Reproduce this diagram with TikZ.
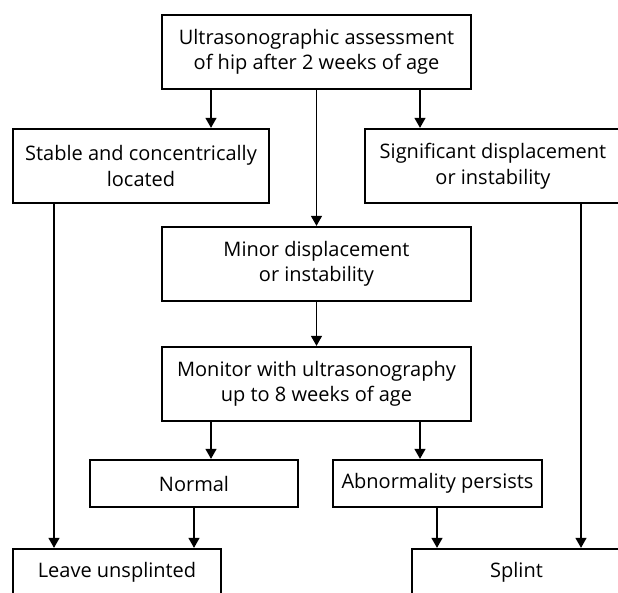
\documentclass[tikz,border=0pt]{standalone}
\usepackage{fontspec}
\setmainfont{Open Sans}
\usetikzlibrary{arrows.meta}
\tikzset{
  box/.style={draw, line width=2.3pt, align=center, inner sep=0pt,
    font=\fontsize{20}{25.5}\selectfont},
  arr/.style={line width=1.2pt, -{Triangle[length=10pt,width=11pt]}}
}
\begin{document}
\begin{tikzpicture}[x=1pt,y=-1pt]
\useasboundingbox (0,0) rectangle (618,592);
\clip (0,0) rectangle (618,592);
\fill[white] (0,0) rectangle (618,592);
\node[box, minimum width=309pt, minimum height=74pt] (top) at (316.5,52)
  {Ultrasonographic assessment\\of hip after 2 weeks of age};
\node[box, minimum width=256pt, minimum height=74pt] (left) at (141,166)
  {Stable and concentrically\\located};
\node[box, minimum width=256pt, minimum height=74pt] (right) at (493,166)
  {Significant displacement\\or instability};
\node[box, minimum width=309pt, minimum height=74pt] (mid) at (316.5,264)
  {Minor displacement\\or instability};
\node[box, minimum width=309pt, minimum height=74pt] (mon) at (316.5,384)
  {Monitor with ultrasonography\\up to 8 weeks of age};
\node[box, minimum width=208pt, minimum height=47pt] (norm) at (194,483.5)
  {Normal};
\node[box, minimum width=209pt, minimum height=47pt] (abn) at (437.5,483.5)
  {Abnormality persists};
\node[box, minimum width=208pt, minimum height=47pt] (leave) at (117,572.5)
  {Leave unsplinted};
\node[box, minimum width=209pt, minimum height=47pt] (splint) at (516.5,572.5)
  {Splint};
\coordinate (c1) at (211,0);
\coordinate (c2) at (316.5,0);
\coordinate (c3) at (420,0);
\coordinate (c4) at (54,0);
\coordinate (c5) at (581,0);
\coordinate (c6) at (194,0);
\coordinate (c7) at (437,0);
\draw[arr] (top.south -| c1) -- (left.north -| c1);
\draw[arr] (top.south -| c2) -- (mid.north -| c2);
\draw[arr] (top.south -| c3) -- (right.north -| c3);
\draw[arr] (left.south -| c4) -- (leave.north -| c4);
\draw[arr] (right.south -| c5) -- (splint.north -| c5);
\draw[arr] (mid.south -| c2) -- (mon.north -| c2);
\draw[arr] (mon.south -| c1) -- (norm.north -| c1);
\draw[arr] (mon.south -| c3) -- (abn.north -| c3);
\draw[arr] (norm.south -| c6) -- (leave.north -| c6);
\draw[arr] (abn.south -| c7) -- (splint.north -| c7);
\end{tikzpicture}
\end{document}
